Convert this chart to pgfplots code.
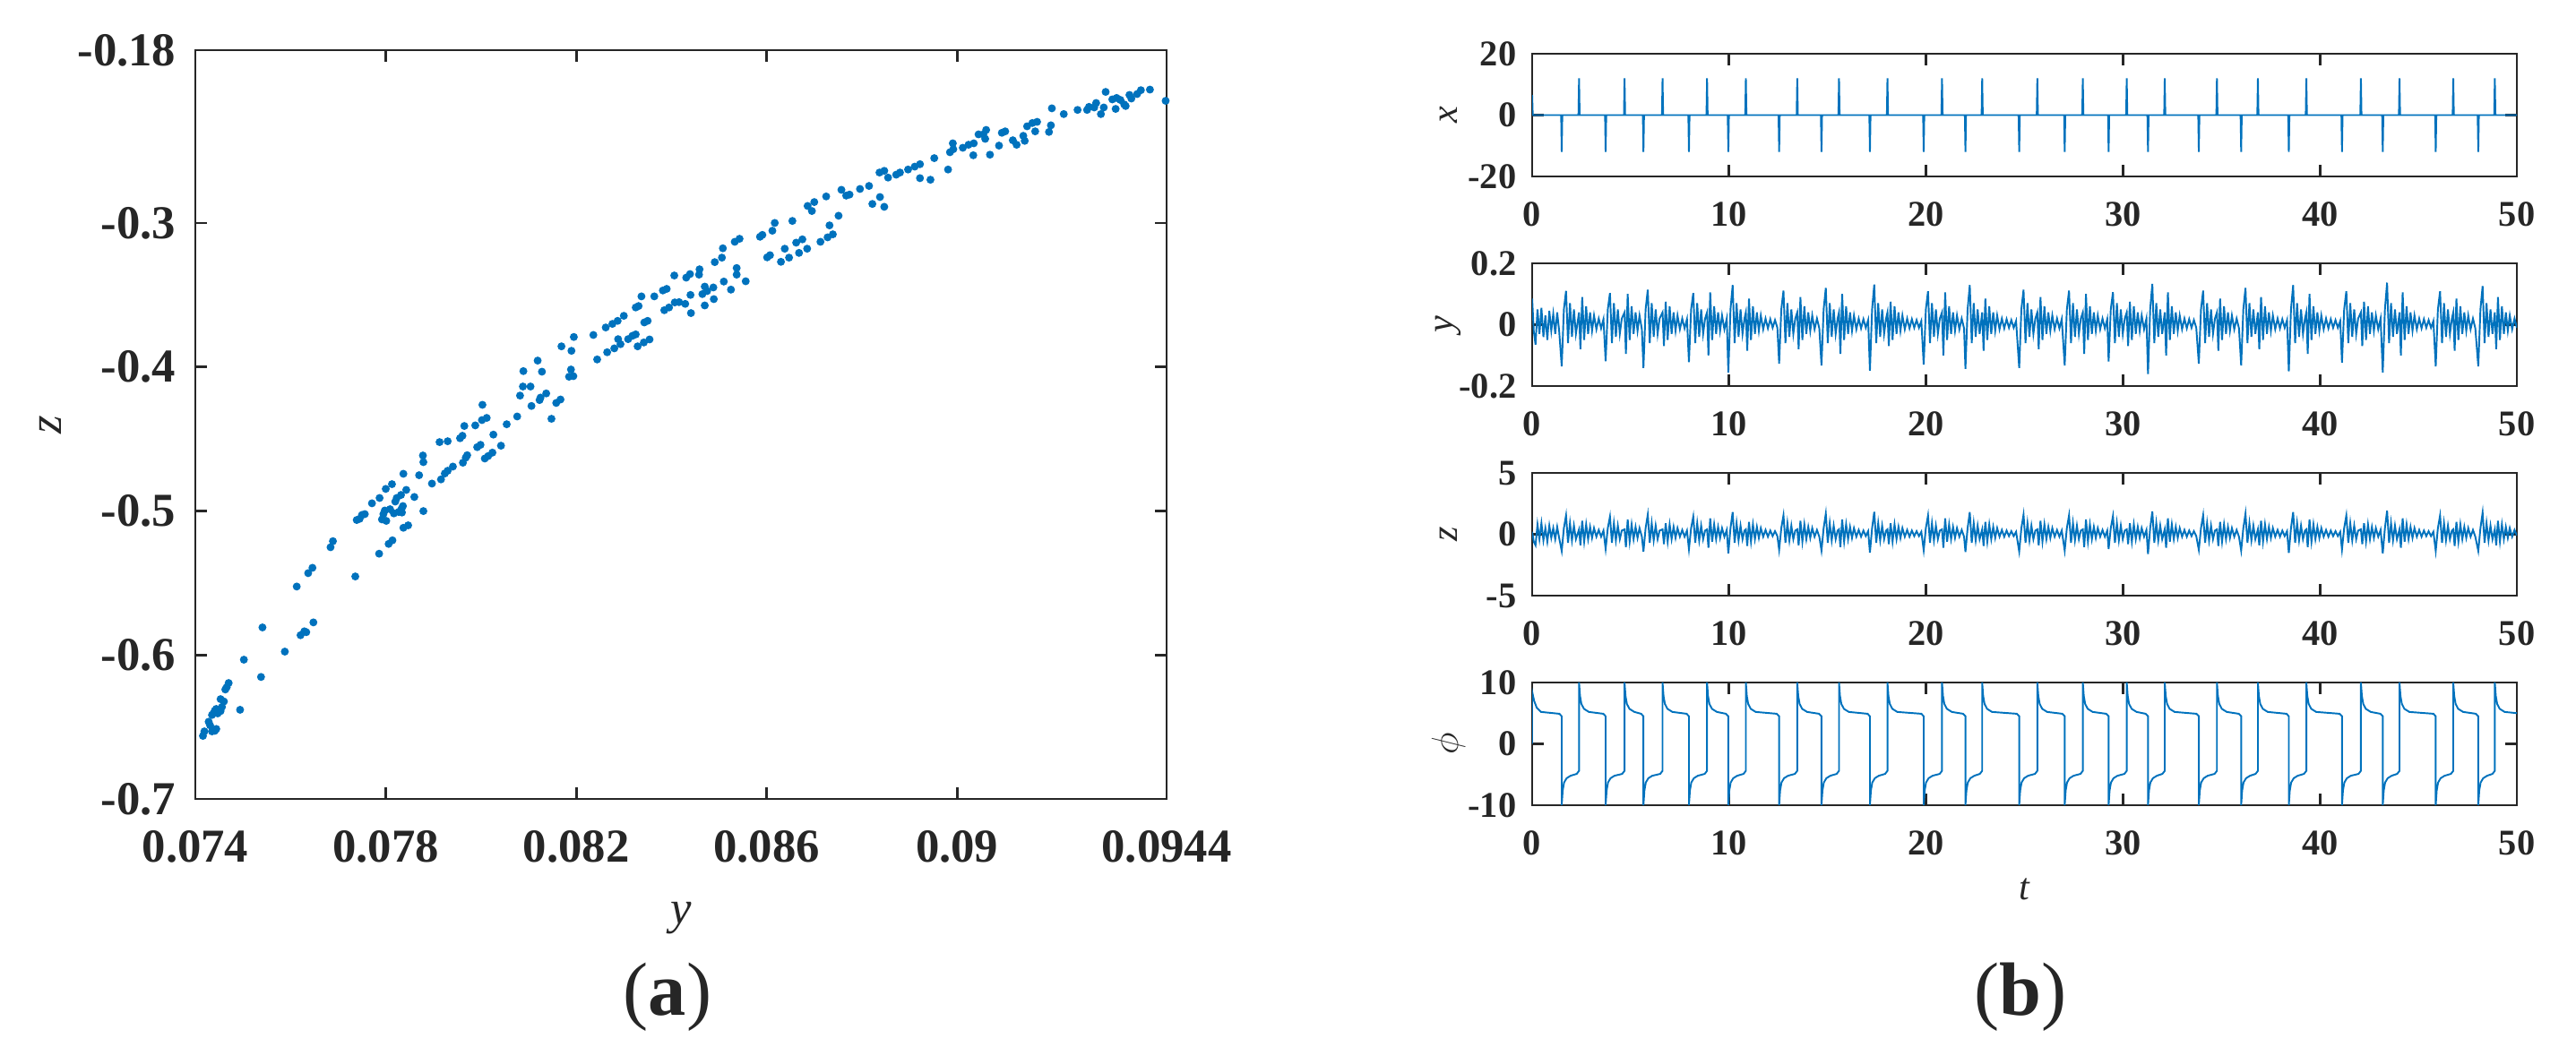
\documentclass[border=0pt]{standalone}
\usepackage{fontspec}
\setmainfont{Liberation Serif}
\usepackage{pgfplots}
\usepackage{pgfplotstable}
\pgfplotsset{compat=1.18}

\definecolor{mblue}{RGB}{0,114,189}
\definecolor{axgray}{RGB}{38,38,38}

% y(t) and z(t)
\pgfplotstableread{
t y z
0.00 0.085 0.2
0.08 -0.02 -0.6
0.17 -0.065 -0.9
0.27 0.05 0.8
0.37 -0.03 -0.4
0.47 0.055 0.9
0.57 -0.04 -0.5
0.67 0.03 0.5
0.77 -0.05 -0.6
0.87 0.045 0.7
0.97 -0.02 -0.3
1.07 0.035 0.5
1.17 -0.03 -0.4
1.27 0.04 0.6
1.37 -0.02 -0.3
1.50 -0.136 -1.36
1.61 0.05 0.5
1.72 0.110 1.54
1.82 -0.06 -0.7
1.92 0.07 0.9
2.02 -0.04 -0.5
2.12 0.05 0.7
2.22 -0.03 -0.4
2.38 0.04 0.4
2.45 -0.08 -0.9
2.54 0.09 1.1
2.64 -0.05 -0.6
2.74 0.06 0.8
2.84 -0.03 -0.4
2.94 0.04 0.6
3.04 -0.02 -0.3
3.14 0.03 0.5
3.26 -0.015 -0.2
3.38 0.02 0.35
3.50 -0.012 -0.2
3.62 0.018 0.3
3.73 -0.119 -1.19
3.84 0.05 0.5
3.95 0.103 1.44
4.05 -0.06 -0.7
4.15 0.07 0.9
4.25 -0.04 -0.5
4.35 0.05 0.7
4.45 -0.03 -0.4
4.55 0.02 0.3
4.69 0.04 0.4
4.76 -0.095 -1.05
4.85 0.10 1.2
4.95 -0.05 -0.6
5.05 0.06 0.8
5.15 -0.03 -0.4
5.25 0.04 0.6
5.35 -0.02 -0.3
5.45 0.03 0.5
5.57 -0.015 -0.2
5.65 -0.141 -1.41
5.76 0.05 0.5
5.87 0.114 1.6
5.97 -0.06 -0.7
6.07 0.07 0.9
6.17 -0.04 -0.5
6.27 0.05 0.7
6.37 -0.03 -0.4
6.47 0.02 0.3
6.62 0.04 0.4
6.69 -0.07 -0.8
6.78 0.075 0.9
6.88 -0.05 -0.6
6.98 0.06 0.8
7.08 -0.03 -0.4
7.18 0.04 0.6
7.28 -0.02 -0.3
7.38 0.03 0.5
7.50 -0.015 -0.2
7.62 0.02 0.35
7.74 -0.012 -0.2
7.86 0.018 0.3
7.96 -0.122 -1.22
8.07 0.05 0.5
8.18 0.103 1.44
8.28 -0.06 -0.7
8.38 0.07 0.9
8.48 -0.04 -0.5
8.58 0.05 0.7
8.68 -0.03 -0.4
8.78 0.02 0.3
8.88 0.04 0.4
8.95 -0.10 -1.1
9.04 0.105 1.3
9.14 -0.05 -0.6
9.24 0.06 0.8
9.34 -0.03 -0.4
9.44 0.04 0.6
9.54 -0.02 -0.3
9.64 0.03 0.5
9.76 -0.015 -0.2
9.88 0.02 0.35
9.96 -0.156 -1.56
10.07 0.05 0.5
10.18 0.129 1.8
10.28 -0.06 -0.7
10.38 0.07 0.9
10.48 -0.04 -0.5
10.58 0.05 0.7
10.68 -0.03 -0.4
10.78 0.02 0.3
10.85 0.04 0.4
10.92 -0.085 -0.95
11.01 0.085 1.0
11.11 -0.05 -0.6
11.21 0.06 0.8
11.31 -0.03 -0.4
11.41 0.04 0.6
11.51 -0.02 -0.3
11.61 0.03 0.5
11.73 -0.015 -0.2
11.85 0.02 0.35
11.97 -0.012 -0.2
12.09 0.018 0.3
12.21 -0.01 -0.15
12.33 0.015 0.25
12.45 -0.01 -0.15
12.54 -0.127 -1.27
12.65 0.05 0.5
12.76 0.111 1.55
12.86 -0.06 -0.7
12.96 0.07 0.9
13.06 -0.04 -0.5
13.16 0.05 0.7
13.26 -0.03 -0.4
13.36 0.02 0.3
13.46 0.04 0.4
13.53 -0.08 -0.9
13.62 0.09 1.1
13.72 -0.05 -0.6
13.82 0.06 0.8
13.92 -0.03 -0.4
14.02 0.04 0.6
14.12 -0.02 -0.3
14.22 0.03 0.5
14.34 -0.015 -0.2
14.46 0.02 0.35
14.58 -0.012 -0.2
14.69 -0.133 -1.33
14.80 0.05 0.5
14.91 0.120 1.68
15.01 -0.06 -0.7
15.11 0.07 0.9
15.21 -0.04 -0.5
15.31 0.05 0.7
15.41 -0.03 -0.4
15.51 0.02 0.3
15.58 0.04 0.4
15.65 -0.095 -1.05
15.74 0.10 1.2
15.84 -0.05 -0.6
15.94 0.06 0.8
16.04 -0.03 -0.4
16.14 0.04 0.6
16.24 -0.02 -0.3
16.34 0.03 0.5
16.46 -0.015 -0.2
16.58 0.02 0.35
16.70 -0.012 -0.2
16.82 0.018 0.3
16.94 -0.01 -0.15
17.06 0.015 0.25
17.15 -0.150 -1.5
17.26 0.05 0.5
17.37 0.131 1.83
17.47 -0.06 -0.7
17.57 0.07 0.9
17.67 -0.04 -0.5
17.77 0.05 0.7
17.87 -0.03 -0.4
17.97 0.02 0.3
18.04 0.04 0.4
18.11 -0.07 -0.8
18.20 0.075 0.9
18.30 -0.05 -0.6
18.40 0.06 0.8
18.50 -0.03 -0.4
18.60 0.04 0.6
18.70 -0.02 -0.3
18.80 0.03 0.5
18.92 -0.015 -0.2
19.04 0.02 0.35
19.16 -0.012 -0.2
19.28 0.018 0.3
19.40 -0.01 -0.15
19.52 0.015 0.25
19.64 -0.01 -0.15
19.76 0.012 0.2
19.88 -0.130 -1.3
19.99 0.05 0.5
20.10 0.109 1.53
20.20 -0.06 -0.7
20.30 0.07 0.9
20.40 -0.04 -0.5
20.50 0.05 0.7
20.60 -0.03 -0.4
20.70 0.02 0.3
20.81 0.04 0.4
20.88 -0.10 -1.1
20.97 0.105 1.3
21.07 -0.05 -0.6
21.17 0.06 0.8
21.27 -0.03 -0.4
21.37 0.04 0.6
21.47 -0.02 -0.3
21.57 0.03 0.5
21.69 -0.015 -0.2
21.81 0.02 0.35
21.93 -0.012 -0.2
22.00 -0.144 -1.44
22.11 0.05 0.5
22.22 0.129 1.8
22.32 -0.06 -0.7
22.42 0.07 0.9
22.52 -0.04 -0.5
22.62 0.05 0.7
22.72 -0.03 -0.4
22.85 0.04 0.4
22.92 -0.085 -0.95
23.01 0.085 1.0
23.11 -0.05 -0.6
23.21 0.06 0.8
23.31 -0.03 -0.4
23.41 0.04 0.6
23.51 -0.02 -0.3
23.61 0.03 0.5
23.73 -0.015 -0.2
23.85 0.02 0.35
23.97 -0.012 -0.2
24.09 0.018 0.3
24.21 -0.01 -0.15
24.33 0.015 0.25
24.45 -0.01 -0.15
24.57 0.012 0.2
24.73 -0.141 -1.41
24.84 0.05 0.5
24.95 0.114 1.6
25.05 -0.06 -0.7
25.15 0.07 0.9
25.25 -0.04 -0.5
25.35 0.05 0.7
25.45 -0.03 -0.4
25.55 0.02 0.3
25.65 0.04 0.4
25.72 -0.08 -0.9
25.81 0.09 1.1
25.91 -0.05 -0.6
26.01 0.06 0.8
26.11 -0.03 -0.4
26.21 0.04 0.6
26.31 -0.02 -0.3
26.41 0.03 0.5
26.53 -0.015 -0.2
26.65 0.02 0.35
26.77 -0.012 -0.2
26.89 0.018 0.3
27.04 -0.133 -1.33
27.15 0.05 0.5
27.26 0.111 1.55
27.36 -0.06 -0.7
27.46 0.07 0.9
27.56 -0.04 -0.5
27.66 0.05 0.7
27.76 -0.03 -0.4
27.86 0.02 0.3
27.96 0.04 0.4
28.03 -0.095 -1.05
28.12 0.10 1.2
28.22 -0.05 -0.6
28.32 0.06 0.8
28.42 -0.03 -0.4
28.52 0.04 0.6
28.62 -0.02 -0.3
28.72 0.03 0.5
28.84 -0.015 -0.2
28.96 0.02 0.35
29.08 -0.012 -0.2
29.20 0.018 0.3
29.27 -0.120 -1.2
29.38 0.05 0.5
29.49 0.106 1.48
29.59 -0.06 -0.7
29.69 0.07 0.9
29.79 -0.04 -0.5
29.89 0.05 0.7
29.99 -0.03 -0.4
30.09 0.02 0.3
30.19 0.04 0.4
30.26 -0.07 -0.8
30.35 0.075 0.9
30.45 -0.05 -0.6
30.55 0.06 0.8
30.65 -0.03 -0.4
30.75 0.04 0.6
30.85 -0.02 -0.3
30.95 0.03 0.5
31.07 -0.015 -0.2
31.19 0.02 0.35
31.27 -0.161 -1.61
31.38 0.05 0.5
31.49 0.133 1.86
31.59 -0.06 -0.7
31.69 0.07 0.9
31.79 -0.04 -0.5
31.89 0.05 0.7
31.99 -0.03 -0.4
32.12 0.04 0.4
32.19 -0.10 -1.1
32.28 0.105 1.3
32.38 -0.05 -0.6
32.48 0.06 0.8
32.58 -0.03 -0.4
32.68 0.04 0.6
32.78 -0.02 -0.3
32.88 0.03 0.5
33.00 -0.015 -0.2
33.12 0.02 0.35
33.24 -0.012 -0.2
33.36 0.018 0.3
33.48 -0.01 -0.15
33.60 0.015 0.25
33.72 -0.01 -0.15
33.85 -0.127 -1.27
33.96 0.05 0.5
34.07 0.111 1.55
34.17 -0.06 -0.7
34.27 0.07 0.9
34.37 -0.04 -0.5
34.47 0.05 0.7
34.57 -0.03 -0.4
34.67 0.02 0.3
34.77 0.04 0.4
34.84 -0.085 -0.95
34.93 0.085 1.0
35.03 -0.05 -0.6
35.13 0.06 0.8
35.23 -0.03 -0.4
35.33 0.04 0.6
35.43 -0.02 -0.3
35.53 0.03 0.5
35.65 -0.015 -0.2
35.77 0.02 0.35
35.89 -0.012 -0.2
36.00 -0.133 -1.33
36.11 0.05 0.5
36.22 0.120 1.68
36.32 -0.06 -0.7
36.42 0.07 0.9
36.52 -0.04 -0.5
36.62 0.05 0.7
36.72 -0.03 -0.4
36.85 0.04 0.4
36.92 -0.08 -0.9
37.01 0.09 1.1
37.11 -0.05 -0.6
37.21 0.06 0.8
37.31 -0.03 -0.4
37.41 0.04 0.6
37.51 -0.02 -0.3
37.61 0.03 0.5
37.73 -0.015 -0.2
37.85 0.02 0.35
37.97 -0.012 -0.2
38.09 0.018 0.3
38.21 -0.01 -0.15
38.33 0.015 0.25
38.42 -0.152 -1.52
38.53 0.05 0.5
38.64 0.129 1.8
38.74 -0.06 -0.7
38.84 0.07 0.9
38.94 -0.04 -0.5
39.04 0.05 0.7
39.14 -0.03 -0.4
39.24 0.02 0.3
39.31 0.04 0.4
39.38 -0.095 -1.05
39.47 0.10 1.2
39.57 -0.05 -0.6
39.67 0.06 0.8
39.77 -0.03 -0.4
39.87 0.04 0.6
39.97 -0.02 -0.3
40.07 0.03 0.5
40.19 -0.015 -0.2
40.31 0.02 0.35
40.43 -0.012 -0.2
40.55 0.018 0.3
40.67 -0.01 -0.15
40.79 0.015 0.25
40.91 -0.01 -0.15
41.03 0.012 0.2
41.12 -0.124 -1.24
41.23 0.05 0.5
41.34 0.109 1.53
41.44 -0.06 -0.7
41.54 0.07 0.9
41.64 -0.04 -0.5
41.74 0.05 0.7
41.84 -0.03 -0.4
41.94 0.02 0.3
42.08 0.04 0.4
42.15 -0.07 -0.8
42.24 0.075 0.9
42.34 -0.05 -0.6
42.44 0.06 0.8
42.54 -0.03 -0.4
42.64 0.04 0.6
42.74 -0.02 -0.3
42.84 0.03 0.5
42.96 -0.015 -0.2
43.08 0.02 0.35
43.19 -0.156 -1.56
43.30 0.05 0.5
43.41 0.137 1.92
43.51 -0.06 -0.7
43.61 0.07 0.9
43.71 -0.04 -0.5
43.81 0.05 0.7
43.91 -0.03 -0.4
44.04 0.04 0.4
44.11 -0.10 -1.1
44.20 0.105 1.3
44.30 -0.05 -0.6
44.40 0.06 0.8
44.50 -0.03 -0.4
44.60 0.04 0.6
44.70 -0.02 -0.3
44.80 0.03 0.5
44.92 -0.015 -0.2
45.04 0.02 0.35
45.16 -0.012 -0.2
45.28 0.018 0.3
45.40 -0.01 -0.15
45.52 0.015 0.25
45.64 -0.01 -0.15
45.76 0.012 0.2
45.88 -0.136 -1.36
45.99 0.05 0.5
46.10 0.109 1.53
46.20 -0.06 -0.7
46.30 0.07 0.9
46.40 -0.04 -0.5
46.50 0.05 0.7
46.60 -0.03 -0.4
46.70 0.02 0.3
46.77 0.04 0.4
46.84 -0.085 -0.95
46.93 0.085 1.0
47.03 -0.05 -0.6
47.13 0.06 0.8
47.23 -0.03 -0.4
47.33 0.04 0.6
47.43 -0.02 -0.3
47.53 0.03 0.5
47.65 -0.015 -0.2
47.77 0.02 0.35
47.89 -0.012 -0.2
48.04 -0.136 -1.36
48.15 0.05 0.5
48.26 0.126 1.76
48.36 -0.06 -0.7
48.46 0.07 0.9
48.56 -0.04 -0.5
48.66 0.05 0.7
48.76 -0.03 -0.4
48.88 0.04 0.4
48.95 -0.08 -0.9
49.04 0.09 1.1
49.14 -0.05 -0.6
49.24 0.06 0.8
49.34 -0.03 -0.4
49.44 0.04 0.6
49.54 -0.02 -0.3
49.64 0.03 0.5
49.76 -0.015 -0.2
49.88 0.02 0.35
50.00 -0.01 -0.1
}\yzdata

\pgfplotsset{
  mat/.style={scale only axis, axis line style={axgray, line width=0.8pt},
    tick style={axgray, line width=0.8pt}, tick align=inside, major tick length=0.13cm,
    ticklabel style={text=axgray}, scaled ticks=false},
  rpanel/.style={mat, anchor=south west, width=10.99cm, height=1.37cm,
    xmin=0, xmax=50, xtick={0,10,20,30,40,50}, xticklabels={0,10,20,30,40,50},
    tick label style={font=\fontsize{11.5}{11.5}\selectfont\bfseries},
    xticklabel style={anchor=north, inner sep=0pt, yshift=-0.28cm},
    yticklabel style={anchor=east, inner sep=0pt, xshift=-0.17cm},
    every axis y label/.style={at={(axis description cs:-0.085,0.5)}, rotate=90, anchor=center,
      font=\fontsize{12}{12}\selectfont\itshape, text=axgray}},
  rline/.style={mblue, line width=0.55pt}
}

\begin{document}
\begin{tikzpicture}
\useasboundingbox (0,0) rectangle (28.75,11.79);

% (a) Poincare section
\begin{axis}[mat, at={(2.18cm,2.87cm)}, anchor=south west, width=10.84cm, height=8.36cm,
  xmin=0.074, xmax=0.0944, ymin=-0.7, ymax=-0.18,
  xtick={0.074,0.078,0.082,0.086,0.09,0.0944},
  xticklabels={0.074,0.078,0.082,0.086,0.09,0.0944},
  ytick={-0.7,-0.6,-0.5,-0.4,-0.3,-0.18},
  yticklabels={-0.7,-0.6,-0.5,-0.4,-0.3,-0.18},
  tick label style={font=\fontsize{15}{15}\selectfont\bfseries},
  xticklabel style={anchor=north, inner sep=0pt, yshift=-0.35cm},
  yticklabel style={anchor=east, inner sep=0pt, xshift=-0.21cm},
  xlabel={y}, ylabel={z},
  every axis x label/.style={at={(axis description cs:0.5,0)}, yshift=-1.33cm, anchor=center,
    font=\fontsize{15}{15}\selectfont\itshape, text=axgray},
  every axis y label/.style={at={(axis description cs:-0.149,0.5)}, rotate=90, anchor=center,
    font=\fontsize{15}{15}\selectfont\itshape, text=axgray}]
\addplot[only marks, mark=*, mark size=1.05pt, mblue, mark options={draw=none, fill=mblue}] coordinates {
(0.07416,-0.6562)(0.07419,-0.6531)(0.07428,-0.6464)(0.07431,-0.6489)(0.07435,-0.6531)
(0.07441,-0.6527)(0.07444,-0.6514)(0.07435,-0.6417)(0.07438,-0.6406)(0.07441,-0.6386)
(0.07444,-0.6375)(0.07447,-0.6406)(0.07453,-0.6390)(0.07456,-0.6361)(0.07460,-0.6323)
(0.07453,-0.6307)(0.07463,-0.6240)(0.07466,-0.6224)(0.07470,-0.6195)(0.07494,-0.6381)
(0.07502,-0.6033)(0.07538,-0.6153)(0.07541,-0.5809)(0.07588,-0.5977)(0.07613,-0.5525)
(0.07621,-0.5863)(0.07629,-0.5836)(0.07633,-0.5842)(0.07637,-0.5432)(0.07646,-0.5395)
(0.07648,-0.5774)(0.07684,-0.5252)(0.07689,-0.5210)(0.07736,-0.5455)(0.07739,-0.5063)
(0.07745,-0.5055)(0.07750,-0.5028)(0.07756,-0.5022)(0.07771,-0.4947)(0.07786,-0.5297)
(0.07787,-0.4910)(0.07792,-0.5059)(0.07795,-0.5022)(0.07798,-0.4997)(0.07801,-0.5069)
(0.07800,-0.4847)(0.07806,-0.5229)(0.07809,-0.4988)(0.07813,-0.4814)(0.07814,-0.5204)
(0.07817,-0.5017)(0.07820,-0.4935)(0.07823,-0.4910)(0.07827,-0.5007)(0.07832,-0.4889)
(0.07833,-0.4986)(0.07836,-0.4966)(0.07834,-0.5011)(0.07837,-0.5117)(0.07837,-0.4742)
(0.07843,-0.4854)(0.07847,-0.5100)(0.07860,-0.4903)(0.07870,-0.4752)(0.07878,-0.4615)
(0.07879,-0.4661)(0.07879,-0.5001)(0.07897,-0.4810)(0.07913,-0.4522)(0.07916,-0.4781)
(0.07924,-0.4740)(0.07930,-0.4721)(0.07930,-0.4516)(0.07941,-0.4692)(0.07956,-0.4495)
(0.07961,-0.4478)(0.07962,-0.4665)(0.07965,-0.4410)(0.07968,-0.4630)(0.07971,-0.4613)
(0.07988,-0.4406)(0.07992,-0.4557)(0.07999,-0.4541)(0.08002,-0.4369)(0.08003,-0.4263)
(0.08008,-0.4636)(0.08012,-0.4354)(0.08015,-0.4619)(0.08024,-0.4595)(0.08026,-0.4470)
(0.08042,-0.4547)(0.08054,-0.4398)(0.08076,-0.4344)(0.08082,-0.4199)(0.08088,-0.4136)
(0.08104,-0.4136)(0.08106,-0.4271)(0.08123,-0.4230)(0.08125,-0.4213)(0.08137,-0.4184)
(0.08148,-0.4360)(0.08158,-0.4250)(0.08167,-0.4226)
(0.08491,-0.3272)(0.08406,-0.3365)(0.08431,-0.3380)(0.08439,-0.3355)(0.08459,-0.3322)
(0.08458,-0.3359)(0.08382,-0.3469)(0.08390,-0.3458)(0.08337,-0.3510)(0.08364,-0.3510)
(0.08325,-0.3587)(0.08331,-0.3577)(0.08300,-0.3645)(0.08287,-0.3680)(0.08276,-0.3701)
(0.08262,-0.3726)(0.08236,-0.3778)(0.08195,-0.3792)(0.08169,-0.3857)(0.08190,-0.3888)
(0.08244,-0.3948)(0.08265,-0.3898)(0.08280,-0.3871)(0.08288,-0.3807)(0.08293,-0.3842)
(0.08309,-0.3807)(0.08318,-0.3784)(0.08325,-0.3774)(0.08329,-0.3857)(0.08342,-0.3830)
(0.08354,-0.3809)(0.08343,-0.3691)(0.08350,-0.3680)(0.08385,-0.3606)(0.08395,-0.3587)
(0.08407,-0.3552)(0.08416,-0.3550)(0.08429,-0.3562)(0.08440,-0.3500)(0.08441,-0.3626)
(0.08465,-0.3494)(0.08470,-0.3442)(0.08475,-0.3473)(0.08488,-0.3448)(0.08470,-0.3573)
(0.08489,-0.3529)(0.08119,-0.3956)(0.08089,-0.4029)(0.08128,-0.4033)(0.08189,-0.4018)
(0.08185,-0.4068)(0.08194,-0.4064)
(0.09438,-0.2152)(0.09405,-0.2074)(0.09386,-0.2078)(0.09378,-0.2105)(0.09362,-0.2111)
(0.09366,-0.2136)(0.09354,-0.2188)(0.09351,-0.2177)(0.09333,-0.2208)(0.09343,-0.2146)
(0.09335,-0.2132)(0.09326,-0.2142)(0.09312,-0.2090)(0.09308,-0.2198)(0.09302,-0.2244)
(0.09292,-0.2167)(0.09288,-0.2198)(0.09277,-0.2194)(0.09273,-0.2215)(0.09253,-0.2215)
(0.09224,-0.2244)(0.09199,-0.2204)(0.09197,-0.2322)(0.09193,-0.2368)(0.09168,-0.2298)
(0.09164,-0.2364)(0.09158,-0.2306)(0.09147,-0.2329)(0.09142,-0.2430)(0.09139,-0.2395)
(0.09125,-0.2457)(0.09117,-0.2426)(0.09101,-0.2364)(0.09094,-0.2374)(0.09088,-0.2463)
(0.09069,-0.2526)(0.09061,-0.2354)(0.09055,-0.2385)(0.09045,-0.2385)(0.09059,-0.2416)
(0.09035,-0.2447)(0.09034,-0.2530)(0.09024,-0.2457)(0.09012,-0.2478)(0.08992,-0.2488)
(0.08991,-0.2447)(0.08985,-0.2509)(0.08981,-0.2629)(0.08952,-0.2550)(0.08944,-0.2700)
(0.08922,-0.2689)(0.08922,-0.2592)(0.08911,-0.2609)(0.08897,-0.2629)(0.08880,-0.2650)
(0.08872,-0.2665)(0.08855,-0.2685)(0.08847,-0.2638)(0.08837,-0.2650)(0.08847,-0.2888)
(0.08838,-0.2820)(0.08822,-0.2868)(0.08815,-0.2743)(0.08796,-0.2764)(0.08774,-0.2803)
(0.08767,-0.2810)(0.08757,-0.2770)(0.08751,-0.2950)(0.08732,-0.3017)(0.08728,-0.3100)
(0.08739,-0.3079)(0.08725,-0.2816)(0.08700,-0.2855)(0.08686,-0.2882)(0.08695,-0.2917)
(0.08654,-0.2986)(0.08675,-0.3114)(0.08662,-0.3137)(0.08638,-0.3179)(0.08647,-0.3241)
(0.08630,-0.3270)(0.08601,-0.3239)(0.08607,-0.3224)(0.08591,-0.3083)(0.08586,-0.3096)
(0.08617,-0.3000)(0.08612,-0.3054)(0.08685,-0.3179)(0.08668,-0.3208)(0.08713,-0.3131)
(0.08556,-0.3405)(0.08543,-0.3110)(0.08533,-0.3131)(0.08537,-0.3359)(0.08537,-0.3313)
(0.08525,-0.3463)(0.08508,-0.3176)(0.08506,-0.3241)(0.08510,-0.3407)
};
\end{axis}

% (b) time series
\begin{axis}[rpanel, at={(17.10cm,9.82cm)}, ymin=-20, ymax=20,
  ytick={-20,0,20}, yticklabels={-20,0,20}, ylabel={x}]
\addplot[rline] coordinates {
(0,6.5)(0.03,0)
(1.47,0)(1.50,-12)(1.53,0)(2.35,0)(2.38,12)(2.41,0)
(3.70,0)(3.73,-12)(3.76,0)(4.66,0)(4.69,12)(4.72,0)
(5.62,0)(5.65,-12)(5.68,0)(6.59,0)(6.62,12)(6.65,0)
(7.93,0)(7.96,-12)(7.99,0)(8.85,0)(8.88,12)(8.91,0)
(9.93,0)(9.96,-12)(9.99,0)(10.82,0)(10.85,12)(10.88,0)
(12.51,0)(12.54,-12)(12.57,0)(13.43,0)(13.46,12)(13.49,0)
(14.66,0)(14.69,-12)(14.72,0)(15.55,0)(15.58,12)(15.61,0)
(17.12,0)(17.15,-12)(17.18,0)(18.01,0)(18.04,12)(18.07,0)
(19.85,0)(19.88,-12)(19.91,0)(20.78,0)(20.81,12)(20.84,0)
(21.97,0)(22.00,-12)(22.03,0)(22.82,0)(22.85,12)(22.88,0)
(24.70,0)(24.73,-12)(24.76,0)(25.62,0)(25.65,12)(25.68,0)
(27.01,0)(27.04,-12)(27.07,0)(27.93,0)(27.96,12)(27.99,0)
(29.24,0)(29.27,-12)(29.30,0)(30.16,0)(30.19,12)(30.22,0)
(31.24,0)(31.27,-12)(31.30,0)(32.09,0)(32.12,12)(32.15,0)
(33.82,0)(33.85,-12)(33.88,0)(34.74,0)(34.77,12)(34.80,0)
(35.97,0)(36.00,-12)(36.03,0)(36.82,0)(36.85,12)(36.88,0)
(38.39,0)(38.42,-12)(38.45,0)(39.28,0)(39.31,12)(39.34,0)
(41.09,0)(41.12,-12)(41.15,0)(42.05,0)(42.08,12)(42.11,0)
(43.16,0)(43.19,-12)(43.22,0)(44.01,0)(44.04,12)(44.07,0)
(45.85,0)(45.88,-12)(45.91,0)(46.74,0)(46.77,12)(46.80,0)
(48.01,0)(48.04,-12)(48.07,0)(48.85,0)(48.88,12)(48.91,0)
(50,0)
};
\end{axis}

\begin{axis}[rpanel, at={(17.10cm,7.48cm)}, ymin=-0.2, ymax=0.2,
  ytick={-0.2,0,0.2}, yticklabels={-0.2,0,0.2}, ylabel={y}]
\addplot[rline] table[x=t, y=y] {\yzdata};
\end{axis}

\begin{axis}[rpanel, at={(17.10cm,5.14cm)}, ymin=-5, ymax=5,
  ytick={-5,0,5}, yticklabels={-5,0,5}, ylabel={z}]
\addplot[rline] table[x=t, y=z] {\yzdata};
\end{axis}

\begin{axis}[rpanel, at={(17.10cm,2.80cm)}, ymin=-10, ymax=10,
  ytick={-10,0,10}, yticklabels={-10,0,10}, ylabel={$\phi$}, xlabel={t},
  every axis x label/.style={at={(axis description cs:0.5,0)}, yshift=-0.94cm, anchor=center,
    font=\fontsize{12}{12}\selectfont\itshape, text=axgray}]
\addplot[rline] coordinates {
(0,0)(0,8.5)(0.10,7.0)(0.23,5.9)(0.45,5.2)(1.38,4.9)(1.50,4.5)(1.50,-10)
(1.55,-7.6)(1.62,-6.3)(1.75,-5.6)(1.95,-5.2)(2.26,-4.9)(2.38,-4.4)(2.38,10)
(2.43,7.8)(2.50,6.5)(2.63,5.7)(2.88,5.2)(3.61,4.9)(3.73,4.5)(3.73,-10)
(3.78,-7.6)(3.85,-6.3)(3.98,-5.6)(4.18,-5.2)(4.57,-4.9)(4.69,-4.4)(4.69,10)
(4.74,7.8)(4.81,6.5)(4.94,5.7)(5.19,5.2)(5.53,4.9)(5.65,4.5)(5.65,-10)
(5.70,-7.6)(5.77,-6.3)(5.90,-5.6)(6.10,-5.2)(6.50,-4.9)(6.62,-4.4)(6.62,10)
(6.67,7.8)(6.74,6.5)(6.87,5.7)(7.12,5.2)(7.84,4.9)(7.96,4.5)(7.96,-10)
(8.01,-7.6)(8.08,-6.3)(8.21,-5.6)(8.41,-5.2)(8.76,-4.9)(8.88,-4.4)(8.88,10)
(8.93,7.8)(9.00,6.5)(9.13,5.7)(9.38,5.2)(9.84,4.9)(9.96,4.5)(9.96,-10)
(10.01,-7.6)(10.08,-6.3)(10.21,-5.6)(10.41,-5.2)(10.73,-4.9)(10.85,-4.4)(10.85,10)
(10.90,7.8)(10.97,6.5)(11.10,5.7)(11.35,5.2)(12.42,4.9)(12.54,4.5)(12.54,-10)
(12.59,-7.6)(12.66,-6.3)(12.79,-5.6)(12.99,-5.2)(13.34,-4.9)(13.46,-4.4)(13.46,10)
(13.51,7.8)(13.58,6.5)(13.71,5.7)(13.96,5.2)(14.57,4.9)(14.69,4.5)(14.69,-10)
(14.74,-7.6)(14.81,-6.3)(14.94,-5.6)(15.14,-5.2)(15.46,-4.9)(15.58,-4.4)(15.58,10)
(15.63,7.8)(15.70,6.5)(15.83,5.7)(16.08,5.2)(17.03,4.9)(17.15,4.5)(17.15,-10)
(17.20,-7.6)(17.27,-6.3)(17.40,-5.6)(17.60,-5.2)(17.92,-4.9)(18.04,-4.4)(18.04,10)
(18.09,7.8)(18.16,6.5)(18.29,5.7)(18.54,5.2)(19.76,4.9)(19.88,4.5)(19.88,-10)
(19.93,-7.6)(20.00,-6.3)(20.13,-5.6)(20.33,-5.2)(20.69,-4.9)(20.81,-4.4)(20.81,10)
(20.86,7.8)(20.93,6.5)(21.06,5.7)(21.31,5.2)(21.88,4.9)(22.00,4.5)(22.00,-10)
(22.05,-7.6)(22.12,-6.3)(22.25,-5.6)(22.45,-5.2)(22.73,-4.9)(22.85,-4.4)(22.85,10)
(22.90,7.8)(22.97,6.5)(23.10,5.7)(23.35,5.2)(24.61,4.9)(24.73,4.5)(24.73,-10)
(24.78,-7.6)(24.85,-6.3)(24.98,-5.6)(25.18,-5.2)(25.53,-4.9)(25.65,-4.4)(25.65,10)
(25.70,7.8)(25.77,6.5)(25.90,5.7)(26.15,5.2)(26.92,4.9)(27.04,4.5)(27.04,-10)
(27.09,-7.6)(27.16,-6.3)(27.29,-5.6)(27.49,-5.2)(27.84,-4.9)(27.96,-4.4)(27.96,10)
(28.01,7.8)(28.08,6.5)(28.21,5.7)(28.46,5.2)(29.15,4.9)(29.27,4.5)(29.27,-10)
(29.32,-7.6)(29.39,-6.3)(29.52,-5.6)(29.72,-5.2)(30.07,-4.9)(30.19,-4.4)(30.19,10)
(30.24,7.8)(30.31,6.5)(30.44,5.7)(30.69,5.2)(31.15,4.9)(31.27,4.5)(31.27,-10)
(31.32,-7.6)(31.39,-6.3)(31.52,-5.6)(31.72,-5.2)(32.00,-4.9)(32.12,-4.4)(32.12,10)
(32.17,7.8)(32.24,6.5)(32.37,5.7)(32.62,5.2)(33.73,4.9)(33.85,4.5)(33.85,-10)
(33.90,-7.6)(33.97,-6.3)(34.10,-5.6)(34.30,-5.2)(34.65,-4.9)(34.77,-4.4)(34.77,10)
(34.82,7.8)(34.89,6.5)(35.02,5.7)(35.27,5.2)(35.88,4.9)(36.00,4.5)(36.00,-10)
(36.05,-7.6)(36.12,-6.3)(36.25,-5.6)(36.45,-5.2)(36.73,-4.9)(36.85,-4.4)(36.85,10)
(36.90,7.8)(36.97,6.5)(37.10,5.7)(37.35,5.2)(38.30,4.9)(38.42,4.5)(38.42,-10)
(38.47,-7.6)(38.54,-6.3)(38.67,-5.6)(38.87,-5.2)(39.19,-4.9)(39.31,-4.4)(39.31,10)
(39.36,7.8)(39.43,6.5)(39.56,5.7)(39.81,5.2)(41.00,4.9)(41.12,4.5)(41.12,-10)
(41.17,-7.6)(41.24,-6.3)(41.37,-5.6)(41.57,-5.2)(41.96,-4.9)(42.08,-4.4)(42.08,10)
(42.13,7.8)(42.20,6.5)(42.33,5.7)(42.58,5.2)(43.07,4.9)(43.19,4.5)(43.19,-10)
(43.24,-7.6)(43.31,-6.3)(43.44,-5.6)(43.64,-5.2)(43.92,-4.9)(44.04,-4.4)(44.04,10)
(44.09,7.8)(44.16,6.5)(44.29,5.7)(44.54,5.2)(45.76,4.9)(45.88,4.5)(45.88,-10)
(45.93,-7.6)(46.00,-6.3)(46.13,-5.6)(46.33,-5.2)(46.65,-4.9)(46.77,-4.4)(46.77,10)
(46.82,7.8)(46.89,6.5)(47.02,5.7)(47.27,5.2)(47.92,4.9)(48.04,4.5)(48.04,-10)
(48.09,-7.6)(48.16,-6.3)(48.29,-5.6)(48.49,-5.2)(48.76,-4.9)(48.88,-4.4)(48.88,10)
(48.93,7.8)(49.00,6.5)(49.13,5.7)(49.38,5.2)(50,5.0)
};
\end{axis}

\node[font=\fontsize{24}{24}\selectfont, text=axgray] at (7.45,0.66) {(\textbf{a})};
\node[font=\fontsize{24}{24}\selectfont, text=axgray] at (22.55,0.66) {(\textbf{b})};
\end{tikzpicture}
\end{document}
